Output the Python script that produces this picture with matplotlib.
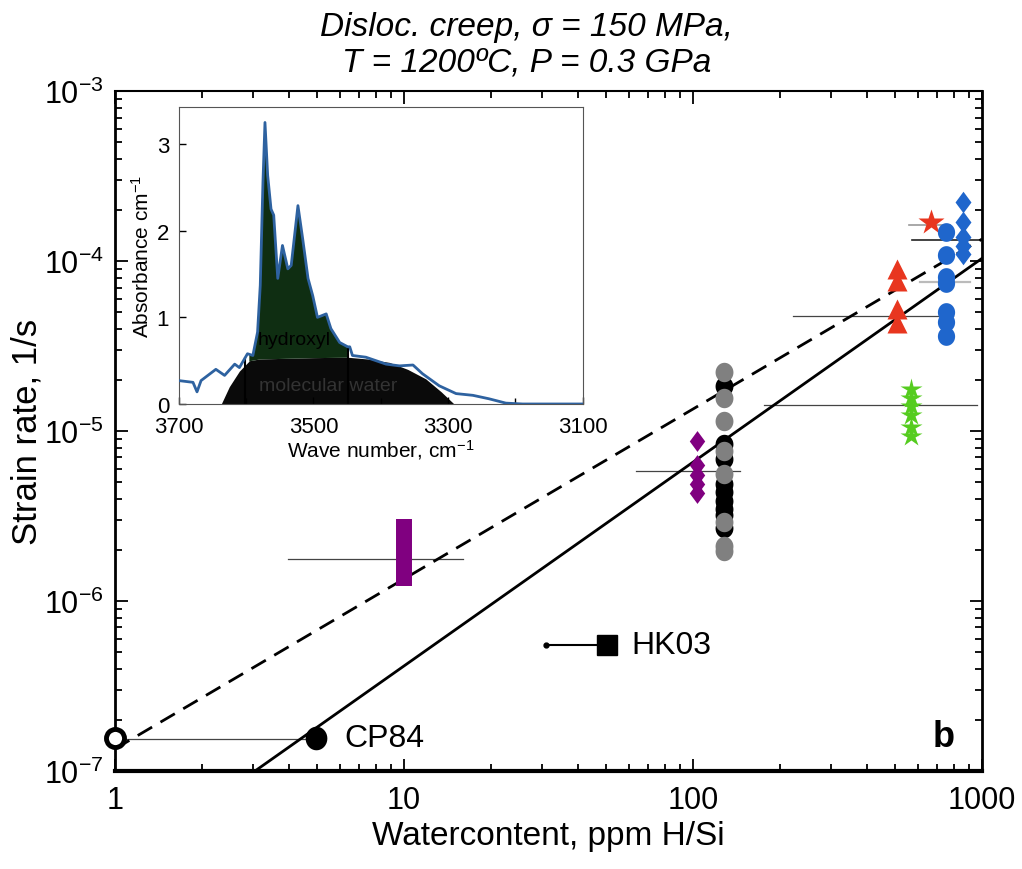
import matplotlib
matplotlib.use('Agg')
import matplotlib.pyplot as plt
import numpy as np
from matplotlib.ticker import LogLocator, NullFormatter, FixedLocator, LogFormatterMathtext

plt.rcParams['font.family'] = ['Liberation Sans', 'DejaVu Sans']
plt.rcParams['mathtext.fontset'] = 'custom'
plt.rcParams['mathtext.rm'] = 'Liberation Sans'
plt.rcParams['mathtext.it'] = 'Liberation Sans:italic'
plt.rcParams['mathtext.bf'] = 'Liberation Sans:bold'

# ---------------- data (main panel) ----------------
dashed_x = [1.0, 1000.0]
dashed_y = [1.35e-7, 1.35e-4]
solid_x = [3.05, 1000.0]
solid_y = [1.0e-7, 1.04e-4]

open_x = [1.0]
open_y = [1.56e-7]
cp84_x = [4.96]
cp84_y = [1.56e-7]
cp84_err_x = [1.0, 4.7]
cp84_err_y = 1.55e-7

bar_x = 10.0
bar_y = [1.22e-6, 3.03e-6]
bar_err_x = [3.97, 16.0]
bar_err_y = 1.78e-6

hk_x = [31.0, 50.2]
hk_y = [5.5e-7, 5.5e-7]

pdiam_x = 103.0
pdiam_y = [8.7e-6, 6.3e-6, 5.55e-6, 4.9e-6, 4.35e-6]
pdiam_err_x = [63.5, 145.5]
pdiam_err_y = 5.8e-6

circ_x = 128.0
black_y = [1.85e-5, 8.45e-6, 6.9e-6, 4.9e-6, 4.4e-6, 3.9e-6, 3.5e-6, 3.2e-6, 2.7e-6]
gray_y = [2.24e-5, 1.56e-5, 1.15e-5, 7.6e-6, 5.6e-6, 2.9e-6, 2.1e-6, 1.96e-6]

tri_x = 508.0
tri_y = [9.0e-5, 7.6e-5, 5.25e-5, 4.3e-5]
tri_err_x = [222.0, 794.0]
tri_err_y = 4.78e-5

rstar_x = 666.0
rstar_y = [1.7e-4]
rstar_err_x = [559.0, 775.0]
rstar_err_y = 1.64e-4

black_err_x = [572.0, 1000.0]
black_err_y = 1.34e-4

bcirc_x = 750.0
bcirc_y = [1.49e-4, 1.09e-4, 8.1e-5, 7.4e-5, 5.05e-5, 4.4e-5, 3.65e-5]
bcirc_err_x = [610.0, 909.0]
bcirc_err_y = 7.57e-5

bdiam_x = 860.0
bdiam_y = [2.23e-4, 1.7e-4, 1.39e-4, 1.23e-4, 1.1e-4]

gstar_x = 568.0
gstar_y = [1.78e-5, 1.56e-5, 1.41e-5, 1.24e-5, 1.06e-5, 9.4e-6]
gstar_err_x = [176.0, 961.0]
gstar_err_y = 1.43e-5

# ---------------- data (inset spectrum) ----------------
spec_w = [3700, 3679, 3673, 3667, 3645, 3632, 3617, 3610, 3598, 3590, 3583, 3579,
          3575, 3572, 3568, 3563, 3559, 3553, 3546, 3538, 3533, 3523, 3516, 3508,
          3501, 3494, 3481, 3474, 3461, 3449, 3446, 3442, 3422, 3392, 3372, 3352,
          3338, 3313, 3288, 3263, 3239, 3214, 3189, 3100]
spec_a = [0.27, 0.25, 0.14, 0.27, 0.40, 0.33, 0.46, 0.42, 0.58, 0.56, 0.83, 1.37,
          2.56, 3.25, 2.64, 2.25, 2.18, 1.45, 1.83, 1.56, 1.60, 2.29, 1.91, 1.45,
          1.25, 1.00, 1.04, 0.87, 0.71, 0.66, 0.66, 0.56, 0.54, 0.46, 0.44, 0.45,
          0.35, 0.21, 0.12, 0.10, 0.06, 0.01, 0.0, 0.0]
dome_w = [3637, 3625, 3610, 3595, 3580, 3500, 3450, 3420, 3387, 3360, 3333, 3310, 3291]
dome_a = [0.0, 0.20, 0.38, 0.50, 0.52, 0.535, 0.54, 0.52, 0.48, 0.40, 0.29, 0.14, 0.0]
split_w = [3601, 3448]

# ---------------- figure ----------------
fig = plt.figure(figsize=(10.22, 8.70), dpi=100)
ax = fig.add_axes([0.1125, 0.1126, 0.8485, 0.7814])
ax.set_xscale('log')
ax.set_yscale('log')
ax.set_xlim(1, 1000)
ax.set_ylim(1e-7, 1e-3)

# fit lines
ax.plot(dashed_x, dashed_y, color='black', lw=2.0, ls=(0, (6, 3.5)), zorder=2)
ax.plot(solid_x, solid_y, color='black', lw=2.0, zorder=2)

# horizontal error lines
hl = dict(color='#444444', lw=0.9, zorder=1)
ax.plot(cp84_err_x, [cp84_err_y] * 2, **hl)
ax.plot(bar_err_x, [bar_err_y] * 2, **hl)
ax.plot(pdiam_err_x, [pdiam_err_y] * 2, **hl)
ax.plot(tri_err_x, [tri_err_y] * 2, **hl)
ax.plot(rstar_err_x, [rstar_err_y] * 2, color='#999999', lw=1.2, zorder=1)
ax.plot(black_err_x, [black_err_y] * 2, color='#222222', lw=1.2, zorder=1)
ax.plot(bcirc_err_x, [bcirc_err_y] * 2, color='#bbbbbb', lw=1.6, zorder=1)
ax.plot(gstar_err_x, [gstar_err_y] * 2, **hl)

# marker shapes (slightly tall, as in the reference)
diamond = [(0, 1), (0.74, 0), (0, -1), (-0.74, 0), (0, 1)]
_t = np.linspace(0, 2 * np.pi, 41)
ellipse = list(zip(0.92 * np.cos(_t), np.sin(_t)))

ax.plot(open_x, open_y, 'o', ms=13, mfc='white', mec='black', mew=3.5, clip_on=False, zorder=5)
ax.plot(cp84_x, cp84_y, ls='none', marker=ellipse, ms=17, color='black', mec='none', zorder=5)
ax.text(6.2, cp84_y[0], 'CP84', fontsize=23, va='center', ha='left')

ax.vlines(bar_x, bar_y[0], bar_y[1], color='#800080', lw=11.5, zorder=4)

ax.plot(hk_x, hk_y, color='black', lw=1.5, zorder=3)
ax.plot(hk_x[0], hk_y[0], 'o', ms=3.5, color='black', zorder=3)
ax.plot(hk_x[1], hk_y[1], 's', ms=14, color='black', zorder=4)
ax.text(61, hk_y[1], 'HK03', fontsize=23, va='center', ha='left')

ax.plot([pdiam_x] * len(pdiam_y), pdiam_y, ls='none', marker=diamond, ms=15,
        color='#800080', mec='none', zorder=4)

ax.plot([circ_x] * len(black_y), black_y, ls='none', marker=ellipse, ms=14,
        color='black', mec='none', zorder=4)
ax.plot([circ_x] * len(gray_y), gray_y, ls='none', marker=ellipse, ms=14,
        color='#808080', mec='none', zorder=4)

ax.plot([tri_x] * len(tri_y), tri_y, '^', ms=14.5, color='#e8361f', mec='none', zorder=4)
ax.plot([rstar_x], rstar_y, '*', ms=19, color='#e8361f', mec='none', zorder=4)
ax.plot([bcirc_x] * len(bcirc_y), bcirc_y, ls='none', marker=ellipse, ms=13.5,
        color='#1f66cc', mec='none', zorder=4)
ax.plot([bdiam_x] * len(bdiam_y), bdiam_y, ls='none', marker=diamond, ms=15.5,
        color='#1f66cc', mec='none', zorder=4)
ax.plot([gstar_x] * len(gstar_y), gstar_y, '*', ms=16, color='#55cc1f', mec='none', zorder=4)

ax.text(0.956, 0.051, 'b', transform=ax.transAxes, fontsize=26, fontweight='bold',
        ha='center', va='center')

# axes style
ax.xaxis.set_major_locator(FixedLocator([1, 10, 100, 1000]))
ax.set_xticklabels(['1', '10', '100', '1000'])
ax.xaxis.set_minor_locator(LogLocator(base=10, subs=np.arange(2, 10)))
ax.xaxis.set_minor_formatter(NullFormatter())
ax.yaxis.set_major_locator(LogLocator(base=10, numticks=10))
ax.yaxis.set_major_formatter(LogFormatterMathtext())
ax.yaxis.set_minor_locator(LogLocator(base=10, subs=np.arange(2, 10), numticks=20))
ax.yaxis.set_minor_formatter(NullFormatter())
ax.tick_params(which='both', direction='in', top=True, right=True, labelsize=22, width=1.3)
ax.tick_params(which='major', length=9)
ax.tick_params(which='minor', length=5)
ax.tick_params(axis='x', pad=10)
ax.tick_params(axis='y', pad=8)
ax.spines['bottom'].set_linewidth(3)
ax.spines['left'].set_linewidth(2)
ax.spines['top'].set_linewidth(1.5)
ax.spines['right'].set_linewidth(2)
ax.set_xlabel('Watercontent, ppm H/Si', fontsize=24, labelpad=4)
ax.set_ylabel('Strain rate, 1/s', fontsize=25, labelpad=0)

fig.text(0.515, 0.968, 'Disloc. creep, σ = 150 MPa,', fontsize=24, style='italic',
         ha='center', va='center')
fig.text(0.515, 0.928, 'T = 1200ºC, P = 0.3 GPa', fontsize=24, style='italic',
         ha='center', va='center')

# ---------------- inset ----------------
ins = fig.add_axes([0.175, 0.5345, 0.395, 0.3415])
ins.set_xlim(3700, 3100)
ins.set_ylim(0, 3.43)
w = np.linspace(3100, 3700, 1201)
spec = np.interp(w, spec_w[::-1], spec_a[::-1])
dome = np.interp(w, dome_w[::-1], dome_a[::-1], left=0, right=0)
ins.fill_between(w, 0, dome, color='#0a0a0a', lw=0, zorder=1)
mask = (w >= split_w[1]) & (w <= 3596) & (spec > dome)
ins.fill_between(w, dome, spec, where=mask, color='#0f2e12', lw=0, zorder=1)
ins.plot(spec_w, spec_a, color='#2e62a0', lw=2.0, zorder=3)
ins.vlines(split_w, 0, np.interp(split_w, spec_w[::-1], spec_a[::-1]), color='black', lw=1.5, zorder=2)
ins.text(3528, 0.75, 'hydroxyl', fontsize=14, color='black', ha='center', va='center', zorder=4)
ins.text(3478, 0.21, 'molecular water', fontsize=14, color='#333333', ha='center', va='center', zorder=4)

ins.set_xticks([3700, 3500, 3300, 3100])
ins.set_xticks([3600, 3400, 3200], minor=True)
ins.set_yticks([0, 1, 2, 3])
ins.tick_params(which='both', direction='in', labelsize=16, width=1)
ins.tick_params(which='major', length=5)
ins.tick_params(which='minor', length=4)
ins.tick_params(axis='x', pad=9)
ins.tick_params(axis='y', pad=7)
for s in ins.spines.values():
    s.set_linewidth(0.8)
    s.set_color('#555555')
ins.set_xlabel('Wave number, cm$^{-1}$', fontsize=15, labelpad=0)
ins.set_ylabel('Absorbance cm$^{-1}$', fontsize=15, labelpad=3)

fig.savefig('out.png', dpi=100)
